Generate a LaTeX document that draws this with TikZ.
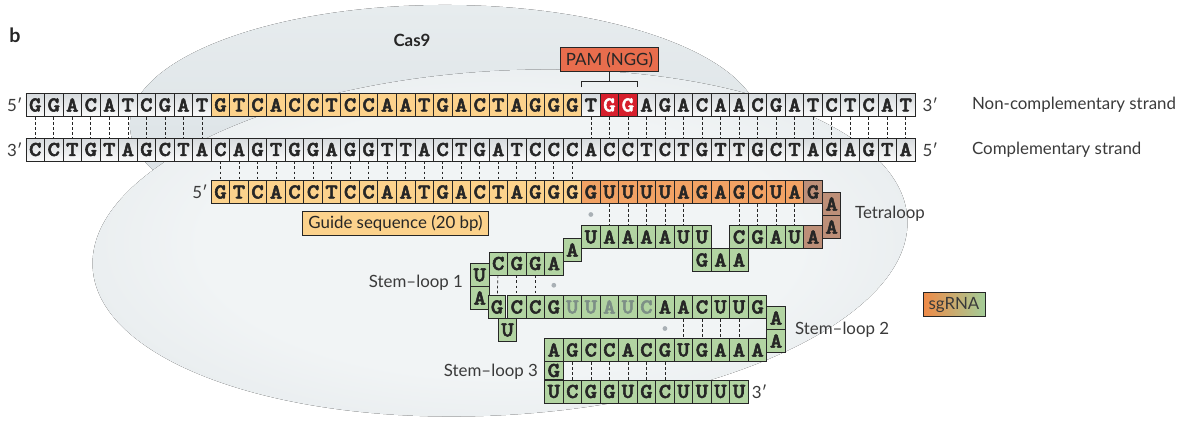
\documentclass[tikz,border=0pt]{standalone}
\usepackage{fontspec}
\setmainfont{Lato}
\newfontfamily\ntfont{lmmonolt10-bold.otf}[FakeBold=2.5,FakeStretch=1.12]
\usepackage{tikz}
\usetikzlibrary{positioning,calc}
\definecolor{ink}{HTML}{262626}
\definecolor{txt}{HTML}{3A3A3A}
\definecolor{dnalt}{HTML}{FAFAFA}
\definecolor{dnadk}{HTML}{D6DADD}
\definecolor{guide}{HTML}{FCD28C}
\definecolor{rep}{HTML}{F2A264}
\definecolor{loopbr}{HTML}{BD8F78}
\definecolor{rna}{HTML}{B2D4A2}
\definecolor{pamred}{HTML}{D61F2C}
\definecolor{pambx}{HTML}{E86D4D}
\definecolor{dimnt}{HTML}{7D8F86}
\definecolor{wobble}{HTML}{A9B0B5}
\definecolor{casin}{HTML}{F1F4F5}
\definecolor{casout}{HTML}{D3DBE0}
\definecolor{castop}{HTML}{E7ECEE}
\definecolor{casbot}{HTML}{D8DFE3}
\definecolor{sgor}{HTML}{EF8A47}
\definecolor{sggr}{HTML}{A3CD98}
\pgfdeclareradialshading{casbody}{\pgfpoint{0bp}{0bp}}{color(0bp)=(casin);
  color(18bp)=(casin); color(50bp)=(casout); color(100bp)=(casout)}

\begin{document}
\begin{tikzpicture}[x=0.025cm,y=-0.025cm,every node/.style={text=ink},
  nt/.style={draw=ink,line width=0.6pt,minimum width=0.463cm,minimum height=0.575cm,
    inner sep=0pt,font=\ntfont\fontsize{15}{15}\selectfont},
  dna/.style={nt,top color=dnadk,bottom color=dnalt},
  gd/.style={nt,fill=guide},
  rp/.style={nt,fill=rep},
  br/.style={nt,fill=loopbr},
  rn/.style={nt,fill=rna},
  pm/.style={nt,fill=pamred,text=white},
  pr/.style={ink,line width=0.5pt,dash pattern=on 2pt off 1.6pt},
  wob/.style={circle,fill=wobble,inner sep=0pt,minimum size=3.4pt},
  lab/.style={font=\fontsize{12}{14}\selectfont,text=txt,inner sep=2pt},
  tag/.style={lab,text=ink,draw=ink,line width=0.6pt,minimum height=0.6cm,inner xsep=4pt}]
  \useasboundingbox (0,0) rectangle (1183,422);
  % Cas9 body
  \fill[top color=castop,bottom color=casbot] (445,125) ellipse [x radius=7.875cm,y radius=3cm];
  \fill[rotate around={3.5:(500,243)},shading=casbody]
    (500,243) ellipse [x radius=10.2cm,y radius=4.3cm];
  \node[font=\bfseries\fontsize{14}{16}\selectfont] (lb) at (15,35) {b};
  \node[font=\bfseries\fontsize{12}{14}\selectfont] (cas) at (412,40) {Cas9};
  % target DNA
  \foreach \b [count=\i] in {G,G,A,C,A,T,C,G,A,T}
    \node[dna] (t\i) at ({16.74+18.52*\i},105) {\b};
  \foreach \b [count=\i from 11] in {G,T,C,A,C,C,T,C,C,A,A,T,G,A,C,T,A,G,G,G}
    \node[gd] (t\i) at ({16.74+18.52*\i},105) {\b};
  \node[dna] (t31) at ({16.74+18.52*31},105) {T};
  \node[pm] (t32) at ({16.74+18.52*32},105) {G};
  \node[pm] (t33) at ({16.74+18.52*33},105) {G};
  \foreach \b [count=\i from 34] in {A,G,A,C,A,A,C,G,A,T,C,T,C,A,T}
    \node[dna] (t\i) at ({16.74+18.52*\i},105) {\b};
  \foreach \b [count=\i] in {C,C,T,G,T,A,G,C,T,A,C,A,G,T,G,G,A,G,G,T,T,A,C,T,G,A,T,C,C,C,A,C,C,T,C,T,G,T,T,G,C,T,A,G,A,G,T,A}
    \node[dna] (c\i) at ({16.74+18.52*\i},149.5) {\b};
  \foreach \i in {1,...,10,31,32,...,48} \draw[pr] (t\i) -- (c\i);
  \node[lab,left=0pt of t1] (p5t) {5′};
  \node[lab,right=3pt of t48] (p3t) {3′};
  \node[lab,left=0pt of c1] (p3c) {3′};
  \node[lab,right=3pt of c48] (p5c) {5′};
  \node[lab,anchor=west] (ncs) at (969,105) {Non-complementary strand};
  \node[lab,anchor=west] (cs) at (969,149.5) {Complementary strand};
  % PAM
  \node[tag,fill=pambx,minimum width=2.4cm,above=0.52cm of t32] (pam) {PAM (NGG)};
  \draw[ink,line width=0.6pt] ([yshift=4pt]t31.north west) -- ([yshift=8pt]t31.north west)
    -- ([yshift=8pt]t33.north east) -- ([yshift=4pt]t33.north east);
  \draw[ink,line width=0.6pt] (pam.south) -- ([yshift=8pt]t32.north);
  % sgRNA: guide and repeat
  \foreach \b [count=\i from 11] in {G,T,C,A,C,C,T,C,C,A,A,T,G,A,C,T,A,G,G,G}
    \node[gd] (g\i) at ({16.74+18.52*\i},192) {\b};
  \foreach \b [count=\i from 31] in {G,U,U,U,U,A,G,A,G,C,U,A}
    \node[rp] (g\i) at ({16.74+18.52*\i},192) {\b};
  \node[br] (g43) at ({16.74+18.52*43},192) {G};
  \foreach \i in {11,...,30} \draw[pr] (c\i) -- (g\i);
  \node[lab,left=0pt of g11] (p5g) {5′};
  \node[tag,fill=guide,minimum width=4.65cm] (gs) at (395.5,223.5) {Guide sequence (20 bp)};
  % tetraloop and anti-repeat
  \node[br] (tl1) at ({16.74+18.52*44},204) {A};
  \node[br] (tl2) at ({16.74+18.52*44},227) {A};
  \node[lab,anchor=west] (tlab) at (852,214) {Tetraloop};
  \foreach \b [count=\i from 31] in {U,A,A,A,A,U,U}
    \node[rn] (l\i) at ({16.74+18.52*\i},237) {\b};
  \foreach \b [count=\i from 39] in {C,G,A,U}
    \node[rn] (l\i) at ({16.74+18.52*\i},237) {\b};
  \node[br] (l43) at ({16.74+18.52*43},237) {A};
  \foreach \b [count=\i from 37] in {G,A,A}
    \node[rn] (k\i) at ({16.74+18.52*\i},260) {\b};
  \node[wob] (w1) at ($(g31)!.5!(l31)$) {};
  \foreach \i in {32,...,36,39,40,41,42} \draw[pr] (g\i) -- (l\i);
  % stem-loop 1
  \node[rn] (a30) at ({16.74+18.52*30},250) {A};
  \foreach \b [count=\i from 26] in {C,G,G,A}
    \node[rn] (s\i) at ({16.74+18.52*\i},263.5) {\b};
  \node[rn] (sl1u) at ({16.74+18.52*25},275) {U};
  \node[rn] (sl1a) at ({16.74+18.52*25},298) {A};
  \node[rn,minimum width=0.425cm] (m26) at (497,307) {G};
  \node[rn] (bu) at ({16.74+18.52*26.5},330) {U};
  \foreach \b [count=\i from 27] in {C,C,G}
    \node[rn] (m\i) at ({16.74+18.52*\i},307) {\b};
  \foreach \b [count=\i from 30] in {U,U,A,U,C}
    \node[rn,text=dimnt] (m\i) at ({16.74+18.52*\i},307) {\b};
  \foreach \b [count=\i from 35] in {A,A,C,U,U,G}
    \node[rn] (m\i) at ({16.74+18.52*\i},307) {\b};
  \foreach \i in {26,27,28} \draw[pr] (s\i) -- (m\i);
  \node[wob] (w2) at ($(s29)!.5!(m29)$) {};
  \node[lab,anchor=east] (sl1) at (466,283) {Stem–loop 1};
  % stem-loop 2
  \node[rn] (sl2a) at ({16.74+18.52*41},318) {A};
  \node[rn] (sl2b) at ({16.74+18.52*41},341) {A};
  \foreach \b [count=\i from 29] in {A,G,C,C,A,C,G,U,G,A,A,A}
    \node[rn] (n\i) at ({16.74+18.52*\i},350) {\b};
  \node[wob] (w3) at ($(m35)!.5!(n35)$) {};
  \foreach \i in {36,...,39} \draw[pr] (m\i) -- (n\i);
  \node[lab,anchor=west] (sl2) at (792,330) {Stem–loop 2};
  % stem-loop 3
  \node[rn,minimum height=0.46cm] (sl3g) at ({16.74+18.52*29},370.5) {G};
  \foreach \b [count=\i from 29] in {U,C,G,G,U,G,C,U,U,U,U}
    \node[rn] (u\i) at ({16.74+18.52*\i},391.5) {\b};
  \foreach \i in {30,...,35} \draw[pr] (n\i) -- (u\i);
  \node[lab,right=0pt of u39] (p3u) {3′};
  \node[lab,anchor=east] (sl3) at (541,372) {Stem–loop 3};
  % legend
  \node[tag,text=txt,left color=sgor,right color=sggr,minimum width=1.35cm,minimum height=0.58cm] (sg) at (954,304.5) {sgRNA};
\end{tikzpicture}
\end{document}
